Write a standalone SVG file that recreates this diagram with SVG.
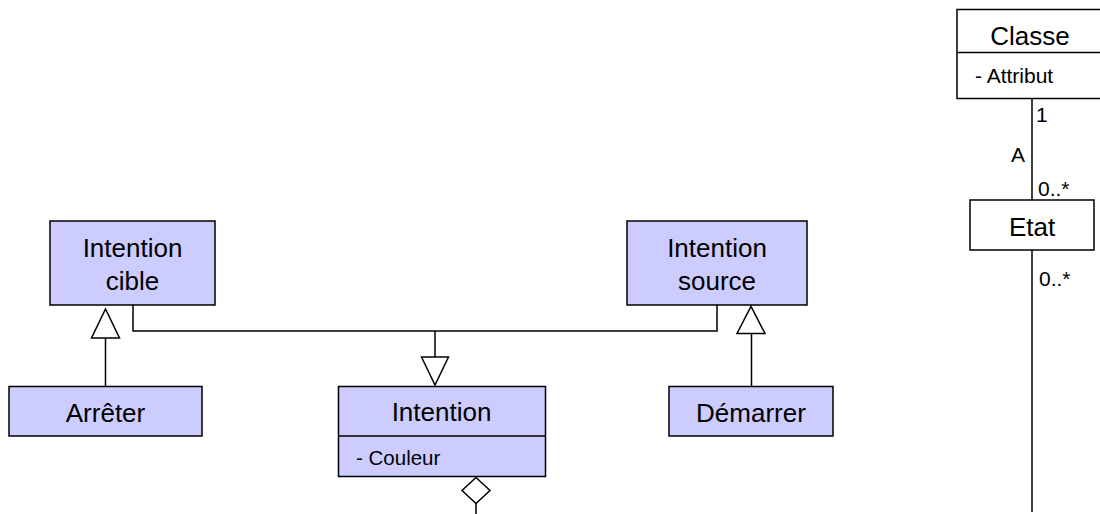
<svg xmlns="http://www.w3.org/2000/svg" width="1100" height="514" viewBox="0 0 1100 514">
<style>
.cls{fill:#CCCCFF;stroke:#000;stroke-width:1.5}
.wcls{fill:#FFFFFF;stroke:#000;stroke-width:1.5}
.ln{fill:none;stroke:#000;stroke-width:1.5}
.hd{fill:#FFFFFF;stroke:#000;stroke-width:1.5}
.t{font-family:"Liberation Sans",Arial,sans-serif;font-size:26px;fill:#000;text-anchor:middle}
.s{font-family:"Liberation Sans",Arial,sans-serif;font-size:21px;fill:#000}
</style>
<rect width="1100" height="514" fill="#FFFFFF"/>
<g id="connectors">
  <polyline class="ln" points="133,305 133,331 717,331 717,305"/>
  <line class="ln" x1="435" y1="331" x2="435" y2="357"/>
  <polygon class="hd" points="421.5,357 448.5,357 435,385"/>
  <line class="ln" x1="105.5" y1="386" x2="105.5" y2="338"/>
  <polygon class="hd" points="91.5,338 119.5,338 105.5,309"/>
  <line class="ln" x1="751.5" y1="386.5" x2="751.5" y2="333.5"/>
  <polygon class="hd" points="737,333.5 765,333.5 751,306.5"/>
  <polygon class="hd" points="476,477.5 490,490.5 476,503.5 462,490.5"/>
  <line class="ln" x1="476" y1="503.5" x2="476" y2="514"/>
  <line class="ln" x1="1032" y1="98" x2="1032" y2="200"/>
  <line class="ln" x1="1032" y1="250" x2="1032" y2="512"/>
  <text class="s" x="1036" y="122">1</text>
  <text class="s" x="1011" y="162">A</text>
  <text class="s" x="1038" y="196">0..*</text>
  <text class="s" x="1039" y="286">0..*</text>
</g>
<g id="intention-cible">
  <rect class="cls" x="50" y="221" width="165" height="84"/>
  <text class="t" x="132.5" y="257">Intention</text>
  <text class="t" x="132.5" y="290">cible</text>
</g>
<g id="intention-source">
  <rect class="cls" x="627" y="221" width="180" height="84"/>
  <text class="t" x="717" y="257">Intention</text>
  <text class="t" x="717" y="290">source</text>
</g>
<g id="arreter">
  <rect class="cls" x="9" y="386.5" width="193" height="49.5"/>
  <text class="t" x="105.5" y="422">Arrêter</text>
</g>
<g id="intention">
  <rect class="cls" x="338.5" y="386.5" width="207" height="90"/>
  <line class="ln" x1="338.5" y1="436" x2="545.5" y2="436"/>
  <text class="t" x="441.5" y="421">Intention</text>
  <text class="s" x="356" y="465" style="font-size:20.5px">- Couleur</text>
</g>
<g id="demarrer">
  <rect class="cls" x="669" y="386.5" width="164" height="49.5"/>
  <text class="t" x="751" y="422">Démarrer</text>
</g>
<g id="classe">
  <rect class="wcls" x="957" y="9.5" width="146" height="89"/>
  <line class="ln" x1="957" y1="52.5" x2="1103" y2="52.5"/>
  <text class="t" x="1030" y="45">Classe</text>
  <text class="s" x="975" y="83">- Attribut</text>
</g>
<g id="etat">
  <rect class="wcls" x="970" y="200" width="124" height="50"/>
  <text class="t" x="1032" y="236">Etat</text>
</g>
</svg>
